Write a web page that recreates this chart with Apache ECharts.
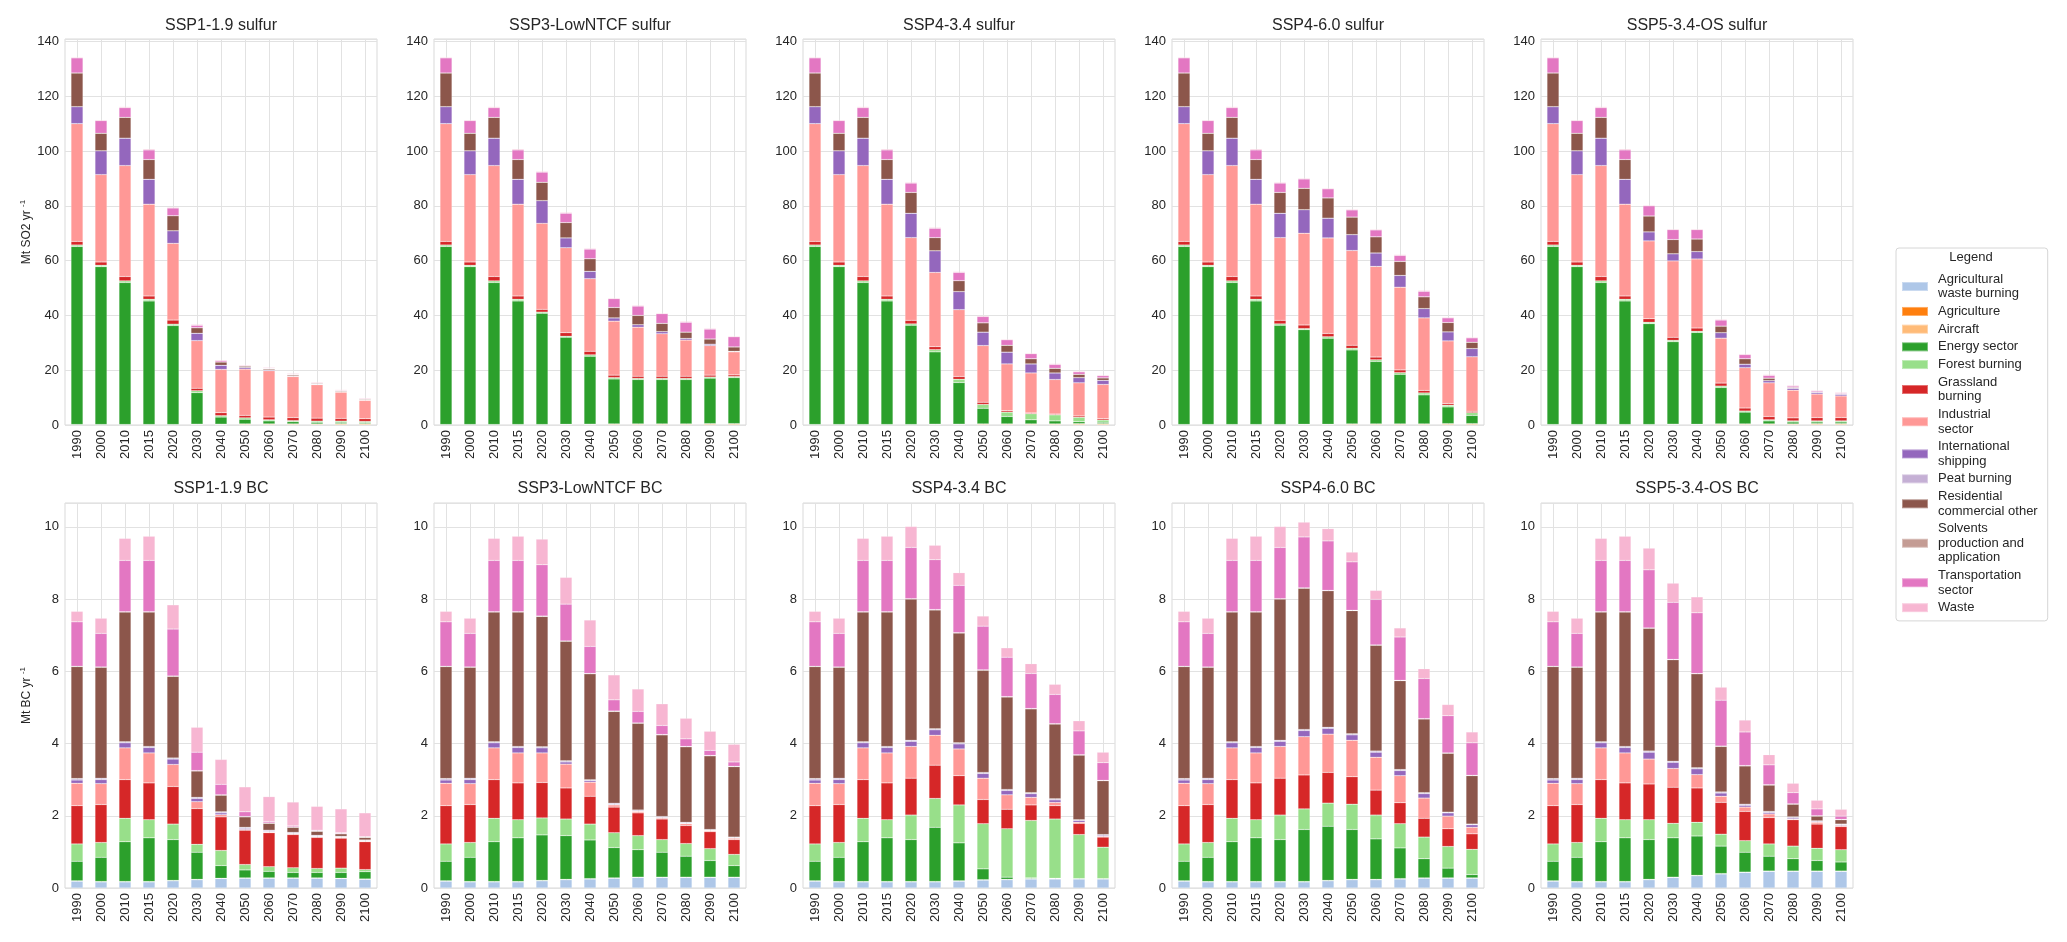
<!DOCTYPE html>
<html>
<head>
<meta charset="utf-8">
<script src="https://cdn.jsdelivr.net/npm/echarts@6/dist/echarts.min.js"></script>
<style>
html,body{margin:0;padding:0;background:#fff;}
#c{width:2067px;height:942px;}
</style>
</head>
<body>
<div id="c"></div>
<script>
const years = ['1990','2000','2010','2015','2020','2030','2040','2050','2060','2070','2080','2090','2100'];
const sectors = ['Agricultural waste burning','Agriculture','Aircraft','Energy sector','Forest burning','Grassland burning','Industrial sector','International shipping','Peat burning','Residential commercial other','Solvents production and application','Transportation sector','Waste'];
const legendLabels = ['Agricultural\nwaste burning','Agriculture','Aircraft','Energy sector','Forest burning','Grassland\nburning','Industrial\nsector','International\nshipping','Peat burning','Residential\ncommercial other','Solvents\nproduction and\napplication','Transportation\nsector','Waste'];
const colors = ['#aec7e8','#ff7f0e','#ffbb78','#2ca02c','#98df8a','#d62728','#ff9896','#9467bd','#c5b0d5','#8c564b','#c49c94','#e377c2','#f7b6d2'];
const panelTitles = ['SSP1-1.9 sulfur','SSP3-LowNTCF sulfur','SSP4-3.4 sulfur','SSP4-6.0 sulfur','SSP5-3.4-OS sulfur','SSP1-1.9 BC','SSP3-LowNTCF BC','SSP4-3.4 BC','SSP4-6.0 BC','SSP5-3.4-OS BC'];
const yTicksSO2 = [0,20,40,60,80,100,120,140];
const yTicksBC = [0,2,4,6,8,10];

// ---------- SO2 (Mt SO2 / yr) ----------
const so2_agwaste   = [0.1,0.1,0.1,0.1,0.1,0.1,0.1,0.1,0.1,0.1,0.1,0.1,0.1];
const so2_agri      = [0,0,0,0,0,0,0,0,0,0,0,0,0];
const so2_aircraft  = [0.1,0.1,0.1,0.1,0.1,0.2,0.2,0.3,0.3,0.3,0.3,0.4,0.4];
const so2_peat      = [0,0,0,0,0,0,0,0,0,0,0,0,0];
const so2_solvents  = [0,0,0,0,0,0,0,0,0,0,0,0,0];
const so2_waste     = [0.3,0.3,0.4,0.4,0.3,0.3,0.3,0.3,0.3,0.3,0.3,0.3,0.3];

const so2_ssp119_energy = [65.0,57.6,51.8,45.1,36.1,11.5,2.6,1.7,1.1,0.8,0.6,0.5,0.4];
const so2_ssp119_forest = [0.5,0.5,0.6,0.6,0.5,0.7,0.5,0.5,0.4,0.4,0.4,0.4,0.4];
const so2_ssp119_grass  = [1.3,1.2,1.6,1.2,1.5,0.9,1.1,0.9,1.0,1.1,1.1,1.0,1.0];
const so2_ssp119_ind    = [43.0,31.9,40.5,33.5,28.0,17.4,15.8,16.9,16.9,15.0,12.2,9.6,6.7];
const so2_ssp119_ship   = [6.2,8.7,10.0,9.1,4.6,2.7,1.5,0.6,0.3,0.2,0.2,0.1,0.1];
const so2_ssp119_res    = [12.3,6.4,7.6,7.2,5.5,2.0,1.2,0.5,0.4,0.4,0.3,0.3,0.3];
const so2_ssp119_trans  = [5.5,4.6,3.5,3.5,2.8,0.9,0.5,0.2,0.2,0.2,0.2,0.2,0.2];

const so2_ssp3_energy = [65.0,57.6,51.8,45.1,40.6,31.7,24.8,16.4,16.2,16.2,16.2,16.6,16.8];
const so2_ssp3_forest = [0.5,0.5,0.6,0.6,0.4,0.4,0.5,0.5,0.4,0.4,0.4,0.4,0.4];
const so2_ssp3_grass  = [1.3,1.2,1.6,1.2,1.0,1.3,1.3,0.9,0.8,0.8,0.8,0.7,0.6];
const so2_ssp3_ind    = [43.0,31.9,40.5,33.5,31.4,31.0,26.5,19.7,17.9,15.5,13.2,10.8,8.4];
const so2_ssp3_ship   = [6.2,8.7,10.0,9.1,8.3,3.6,2.7,1.2,0.9,0.8,0.6,0.5,0.2];
const so2_ssp3_res    = [12.3,6.4,7.6,7.2,6.7,5.6,4.6,3.8,3.4,3.0,2.3,1.9,1.6];
const so2_ssp3_trans  = [5.5,4.6,3.5,3.5,3.7,3.4,3.5,3.2,3.4,3.5,3.6,3.6,3.7];

const so2_ssp434_energy = [65.0,57.6,51.8,45.1,36.2,26.4,15.2,5.7,2.7,1.5,1.1,0.7,0.5];
const so2_ssp434_forest = [0.5,0.5,0.6,0.6,0.5,0.8,1.2,1.4,1.6,2.2,2.2,1.6,0.8];
const so2_ssp434_grass  = [1.3,1.2,1.6,1.2,1.3,1.1,1.0,0.8,0.5,0.3,0.3,0.5,0.5];
const so2_ssp434_ind    = [43.0,31.9,40.5,33.5,30.2,27.1,24.4,20.7,17.1,14.6,12.6,12.1,12.5];
const so2_ssp434_ship   = [6.2,8.7,10.0,9.1,8.9,7.9,6.6,4.9,4.3,3.3,2.4,1.9,1.5];
const so2_ssp434_res    = [12.3,6.4,7.6,7.2,7.6,4.8,4.0,3.4,2.5,1.9,1.7,1.2,0.9];
const so2_ssp434_trans  = [5.5,4.6,3.5,3.5,3.4,3.4,3.0,2.3,2.0,1.8,1.4,0.9,0.8];

const so2_ssp460_energy = [65.0,57.6,51.8,45.1,36.2,34.5,31.4,27.0,22.8,18.1,10.6,6.1,3.0];
const so2_ssp460_forest = [0.5,0.5,0.6,0.6,0.5,0.4,0.5,0.6,0.6,0.6,0.7,0.6,1.0];
const so2_ssp460_grass  = [1.3,1.2,1.6,1.2,1.3,1.3,1.2,1.1,1.0,1.0,0.9,0.6,0.5];
const so2_ssp460_ind    = [43.0,31.9,40.5,33.5,30.2,33.5,34.9,34.6,33.1,30.2,26.5,22.9,19.9];
const so2_ssp460_ship   = [6.2,8.7,10.0,9.1,8.9,8.6,7.2,5.8,4.9,4.3,3.4,3.3,3.0];
const so2_ssp460_res    = [12.3,6.4,7.6,7.2,7.6,7.8,7.4,6.4,5.9,5.1,4.3,3.4,2.3];
const so2_ssp460_trans  = [5.5,4.6,3.5,3.5,3.4,3.4,3.3,2.6,2.5,2.2,2.0,1.7,1.6];

const so2_ssp534_energy = [65.0,57.6,51.8,45.1,36.8,30.1,33.5,13.3,4.3,1.1,0.7,0.6,0.6];
const so2_ssp534_forest = [0.5,0.5,0.6,0.6,0.5,0.5,0.4,0.5,0.4,0.4,0.4,0.4,0.4];
const so2_ssp534_grass  = [1.3,1.2,1.6,1.2,1.3,1.1,1.2,1.1,1.1,1.2,1.1,1.2,1.2];
const so2_ssp534_ind    = [43.0,31.9,40.5,33.5,28.4,27.9,25.2,16.4,14.7,12.3,10.1,8.6,7.9];
const so2_ssp534_ship   = [6.2,8.7,10.0,9.1,3.3,2.6,2.7,2.0,1.3,0.8,0.7,0.6,0.6];
const so2_ssp534_res    = [12.3,6.4,7.6,7.2,5.8,5.2,4.6,2.4,2.0,0.9,0.3,0.2,0.2];
const so2_ssp534_trans  = [5.5,4.6,3.5,3.5,3.7,3.6,3.4,2.2,1.5,1.0,0.5,0.4,0.3];

// ---------- BC (Mt BC / yr) ----------
const bc_agri     = [0,0,0,0,0,0,0,0,0,0,0,0,0];
const bc_aircraft = [0.01,0.01,0.01,0.01,0.01,0.01,0.01,0.01,0.01,0.01,0.01,0.01,0.01];
const bc_peat     = [0.04,0.04,0.03,0.03,0.03,0.03,0.03,0.03,0.03,0.03,0.03,0.02,0.02];
const bc_solvents = [0.01,0.01,0.01,0.01,0.01,0.01,0.01,0.01,0.01,0.01,0.01,0.01,0.01];

const bc_ssp119_agwaste = [0.19,0.17,0.17,0.17,0.20,0.23,0.26,0.27,0.27,0.27,0.27,0.26,0.24];
const bc_ssp119_energy  = [0.54,0.67,1.10,1.21,1.13,0.75,0.35,0.22,0.18,0.15,0.15,0.16,0.20];
const bc_ssp119_forest  = [0.48,0.41,0.65,0.50,0.43,0.22,0.42,0.15,0.13,0.13,0.11,0.12,0.06];
const bc_ssp119_grass   = [1.06,1.05,1.07,1.02,1.04,0.99,0.93,0.95,0.94,0.92,0.86,0.83,0.77];
const bc_ssp119_ind     = [0.62,0.58,0.88,0.83,0.61,0.19,0.06,0.02,0.02,0.02,0.02,0.02,0.02];
const bc_ssp119_ship    = [0.09,0.11,0.14,0.15,0.15,0.09,0.05,0.03,0.02,0.01,0.01,0.01,0.01];
const bc_ssp119_res     = [3.10,3.07,3.59,3.72,2.26,0.73,0.46,0.29,0.19,0.14,0.11,0.07,0.07];
const bc_ssp119_trans   = [1.23,0.93,1.42,1.42,1.30,0.51,0.29,0.13,0.04,0.03,0.02,0.02,0.01];
const bc_ssp119_waste   = [0.29,0.42,0.61,0.67,0.67,0.69,0.69,0.69,0.69,0.66,0.66,0.66,0.66];

const bc_ssp3_agwaste = [0.19,0.17,0.17,0.17,0.20,0.23,0.25,0.27,0.29,0.29,0.29,0.29,0.29];
const bc_ssp3_energy  = [0.54,0.67,1.10,1.21,1.26,1.21,1.07,0.84,0.76,0.69,0.58,0.46,0.32];
const bc_ssp3_forest  = [0.48,0.41,0.65,0.50,0.47,0.46,0.44,0.41,0.39,0.35,0.35,0.33,0.31];
const bc_ssp3_grass   = [1.06,1.05,1.07,1.02,0.98,0.86,0.77,0.71,0.63,0.57,0.50,0.47,0.41];
const bc_ssp3_ind     = [0.62,0.58,0.88,0.83,0.82,0.66,0.39,0.06,0.04,0.03,0.05,0.03,0.04];
const bc_ssp3_ship    = [0.09,0.11,0.14,0.15,0.14,0.06,0.04,0.02,0.01,0.01,0.01,0.01,0.01];
const bc_ssp3_res     = [3.10,3.07,3.59,3.72,3.61,3.31,2.93,2.54,2.40,2.26,2.09,2.04,1.95];
const bc_ssp3_trans   = [1.23,0.93,1.42,1.42,1.42,1.02,0.75,0.31,0.32,0.25,0.21,0.14,0.12];
const bc_ssp3_waste   = [0.29,0.42,0.61,0.67,0.71,0.74,0.73,0.69,0.62,0.60,0.57,0.53,0.49];

const bc_ssp434_agwaste = [0.19,0.17,0.17,0.17,0.17,0.17,0.19,0.22,0.23,0.25,0.25,0.25,0.25];
const bc_ssp434_energy  = [0.54,0.67,1.10,1.21,1.16,1.50,1.05,0.30,0.06,0.02,0.01,0.00,0.00];
const bc_ssp434_forest  = [0.48,0.41,0.65,0.50,0.68,0.80,1.05,1.25,1.34,1.59,1.64,1.22,0.87];
const bc_ssp434_grass   = [1.06,1.05,1.07,1.02,1.02,0.92,0.81,0.67,0.54,0.43,0.37,0.31,0.28];
const bc_ssp434_ind     = [0.62,0.58,0.88,0.83,0.88,0.83,0.74,0.59,0.40,0.21,0.09,0.03,0.02];
const bc_ssp434_ship    = [0.09,0.11,0.14,0.15,0.14,0.15,0.14,0.13,0.12,0.10,0.07,0.05,0.03];
const bc_ssp434_res     = [3.10,3.07,3.59,3.72,3.91,3.29,3.04,2.83,2.56,2.32,2.07,1.79,1.49];
const bc_ssp434_trans   = [1.23,0.93,1.42,1.42,1.42,1.38,1.31,1.21,1.09,0.97,0.81,0.66,0.49];
const bc_ssp434_waste   = [0.29,0.42,0.61,0.67,0.58,0.40,0.35,0.28,0.26,0.27,0.28,0.28,0.29];

const bc_ssp460_agwaste = [0.19,0.17,0.17,0.17,0.17,0.17,0.20,0.23,0.23,0.25,0.27,0.27,0.27];
const bc_ssp460_energy  = [0.54,0.67,1.10,1.21,1.16,1.44,1.50,1.38,1.12,0.85,0.53,0.27,0.09];
const bc_ssp460_forest  = [0.48,0.41,0.65,0.50,0.68,0.57,0.64,0.70,0.66,0.67,0.60,0.60,0.70];
const bc_ssp460_grass   = [1.06,1.05,1.07,1.02,1.02,0.94,0.85,0.76,0.69,0.58,0.52,0.49,0.43];
const bc_ssp460_ind     = [0.62,0.58,0.88,0.83,0.88,1.06,1.06,1.01,0.91,0.75,0.56,0.35,0.18];
const bc_ssp460_ship    = [0.09,0.11,0.14,0.15,0.14,0.17,0.16,0.15,0.14,0.14,0.12,0.09,0.07];
const bc_ssp460_res     = [3.10,3.07,3.59,3.72,3.91,3.91,3.78,3.41,2.93,2.46,2.04,1.63,1.34];
const bc_ssp460_trans   = [1.23,0.93,1.42,1.42,1.42,1.41,1.37,1.34,1.26,1.20,1.11,1.03,0.90];
const bc_ssp460_waste   = [0.29,0.42,0.61,0.67,0.58,0.41,0.34,0.27,0.25,0.25,0.27,0.31,0.30];

const bc_ssp534_agwaste = [0.19,0.17,0.17,0.17,0.23,0.29,0.34,0.39,0.43,0.46,0.46,0.46,0.46];
const bc_ssp534_energy  = [0.54,0.67,1.10,1.21,1.10,1.09,1.09,0.76,0.55,0.41,0.34,0.29,0.25];
const bc_ssp534_forest  = [0.48,0.41,0.65,0.50,0.55,0.40,0.38,0.33,0.32,0.34,0.35,0.34,0.34];
const bc_ssp534_grass   = [1.06,1.05,1.07,1.02,0.99,1.00,0.95,0.88,0.81,0.73,0.73,0.67,0.64];
const bc_ssp534_ind     = [0.62,0.58,0.88,0.83,0.69,0.52,0.37,0.17,0.12,0.10,0.02,0.05,0.03];
const bc_ssp534_ship    = [0.09,0.11,0.14,0.15,0.19,0.17,0.16,0.09,0.05,0.04,0.03,0.02,0.02];
const bc_ssp534_res     = [3.10,3.07,3.59,3.72,3.40,2.81,2.60,1.26,1.06,0.73,0.35,0.13,0.12];
const bc_ssp534_trans   = [1.23,0.93,1.42,1.42,1.61,1.58,1.68,1.27,0.93,0.55,0.31,0.19,0.09];
const bc_ssp534_waste   = [0.29,0.42,0.61,0.67,0.60,0.53,0.44,0.36,0.33,0.28,0.26,0.24,0.19];

// sector order per panel follows `sectors`
const panelData = [
  [so2_agwaste, so2_agri, so2_aircraft, so2_ssp119_energy, so2_ssp119_forest, so2_ssp119_grass, so2_ssp119_ind, so2_ssp119_ship, so2_peat, so2_ssp119_res, so2_solvents, so2_ssp119_trans, so2_waste],
  [so2_agwaste, so2_agri, so2_aircraft, so2_ssp3_energy, so2_ssp3_forest, so2_ssp3_grass, so2_ssp3_ind, so2_ssp3_ship, so2_peat, so2_ssp3_res, so2_solvents, so2_ssp3_trans, so2_waste],
  [so2_agwaste, so2_agri, so2_aircraft, so2_ssp434_energy, so2_ssp434_forest, so2_ssp434_grass, so2_ssp434_ind, so2_ssp434_ship, so2_peat, so2_ssp434_res, so2_solvents, so2_ssp434_trans, so2_waste],
  [so2_agwaste, so2_agri, so2_aircraft, so2_ssp460_energy, so2_ssp460_forest, so2_ssp460_grass, so2_ssp460_ind, so2_ssp460_ship, so2_peat, so2_ssp460_res, so2_solvents, so2_ssp460_trans, so2_waste],
  [so2_agwaste, so2_agri, so2_aircraft, so2_ssp534_energy, so2_ssp534_forest, so2_ssp534_grass, so2_ssp534_ind, so2_ssp534_ship, so2_peat, so2_ssp534_res, so2_solvents, so2_ssp534_trans, so2_waste],
  [bc_ssp119_agwaste, bc_agri, bc_aircraft, bc_ssp119_energy, bc_ssp119_forest, bc_ssp119_grass, bc_ssp119_ind, bc_ssp119_ship, bc_peat, bc_ssp119_res, bc_solvents, bc_ssp119_trans, bc_ssp119_waste],
  [bc_ssp3_agwaste, bc_agri, bc_aircraft, bc_ssp3_energy, bc_ssp3_forest, bc_ssp3_grass, bc_ssp3_ind, bc_ssp3_ship, bc_peat, bc_ssp3_res, bc_solvents, bc_ssp3_trans, bc_ssp3_waste],
  [bc_ssp434_agwaste, bc_agri, bc_aircraft, bc_ssp434_energy, bc_ssp434_forest, bc_ssp434_grass, bc_ssp434_ind, bc_ssp434_ship, bc_peat, bc_ssp434_res, bc_solvents, bc_ssp434_trans, bc_ssp434_waste],
  [bc_ssp460_agwaste, bc_agri, bc_aircraft, bc_ssp460_energy, bc_ssp460_forest, bc_ssp460_grass, bc_ssp460_ind, bc_ssp460_ship, bc_peat, bc_ssp460_res, bc_solvents, bc_ssp460_trans, bc_ssp460_waste],
  [bc_ssp534_agwaste, bc_agri, bc_aircraft, bc_ssp534_energy, bc_ssp534_forest, bc_ssp534_grass, bc_ssp534_ind, bc_ssp534_ship, bc_peat, bc_ssp534_res, bc_solvents, bc_ssp534_trans, bc_ssp534_waste]
];

const FONT = '"Liberation Sans", Arial, sans-serif';
const TXT = '#262626';
const GRIDC = '#e2e2e2';
const panelLeft = [65, 434, 803, 1172, 1541];
const panelW = 312;
const rows = [{top: 39, height: 386}, {top: 503, height: 385}];

const grids = [], xAxes = [], yAxes = [], titles = [], series = [];
for (let p = 0; p < 10; p++) {
  const r = p < 5 ? 0 : 1, c = p % 5;
  const isSO2 = r === 0;
  grids.push({left: panelLeft[c], top: rows[r].top, width: panelW, height: rows[r].height,
    show: true, borderColor: '#d9d9d9', borderWidth: 1, containLabel: false});
  titles.push({text: panelTitles[p], left: panelLeft[c] + panelW / 2, top: r === 0 ? 18 : 481,
    textAlign: 'center', padding: 0,
    textStyle: {fontFamily: FONT, fontSize: 16, fontWeight: 'normal', color: TXT}});
  xAxes.push({type: 'category', gridIndex: p, data: years,
    axisLine: {show: false}, axisTick: {show: false},
    axisLabel: {rotate: 90, interval: 0, margin: 5, fontSize: 13, fontFamily: FONT, color: TXT},
    splitLine: {show: true, alignWithLabel: true, interval: 0, lineStyle: {color: GRIDC, width: 1}}});
  const ticks = isSO2 ? yTicksSO2 : yTicksBC;
  const yAx = {type: 'value', gridIndex: p, min: 0, max: isSO2 ? 140.9 : 10.66,
    interval: ticks[1] - ticks[0],
    axisLine: {show: false}, axisTick: {show: false},
    axisLabel: {margin: 6, fontSize: 13, fontFamily: FONT, color: TXT,
      formatter: v => (ticks.indexOf(Math.round(v * 1000) / 1000) >= 0 ? String(v) : '')},
    splitLine: {show: true, lineStyle: {color: GRIDC, width: 1}}};
  if (c === 0) {
    yAx.name = isSO2 ? '{n|Mt SO2 yr }{s|-1}' : '{n|Mt BC yr }{s|-1}';
    yAx.nameLocation = 'middle';
    yAx.nameRotate = 90;
    yAx.nameGap = 30;
    yAx.nameTextStyle = {fontFamily: FONT, color: TXT, rich: {
      n: {fontSize: 12, fontFamily: FONT, color: TXT, lineHeight: 16},
      s: {fontSize: 8, fontFamily: FONT, color: TXT, lineHeight: 8, verticalAlign: 'top'}}};
  }
  yAxes.push(yAx);
  for (let s = 0; s < sectors.length; s++) {
    series.push({type: 'bar', name: sectors[s], xAxisIndex: p, yAxisIndex: p, stack: 'p' + p,
      data: panelData[p][s], barWidth: '50%',
      itemStyle: {color: colors[s], borderColor: 'rgba(255,255,255,0.35)', borderWidth: 0.5},
      emphasis: {disabled: true}, silent: true});
  }
}
titles.push({text: 'Legend', left: 1971, top: 251, textAlign: 'center', padding: 0,
  textStyle: {fontFamily: FONT, fontSize: 13, fontWeight: 'normal', color: TXT}});

const chart = echarts.init(document.getElementById('c'), null, {renderer: 'canvas'});
chart.setOption({
  animation: false,
  backgroundColor: '#ffffff',
  title: titles,
  grid: grids,
  xAxis: xAxes,
  yAxis: yAxes,
  legend: {
    orient: 'vertical', left: 1896, top: 248,
    data: sectors.map((n, i) => ({name: n, itemStyle: {color: colors[i]}})),
    icon: 'rect', itemWidth: 26, itemHeight: 9, itemGap: 3.2,
    selectedMode: false,
    formatter: name => legendLabels[sectors.indexOf(name)],
    textStyle: {fontFamily: FONT, fontSize: 13, lineHeight: 14.5, color: TXT, padding: [0, 0, 0, 5]},
    padding: [24, 10, 6, 5],
    borderColor: '#d6d6d6', borderWidth: 1, borderRadius: 3
  },
  series: series
});
</script>
</body>
</html>
